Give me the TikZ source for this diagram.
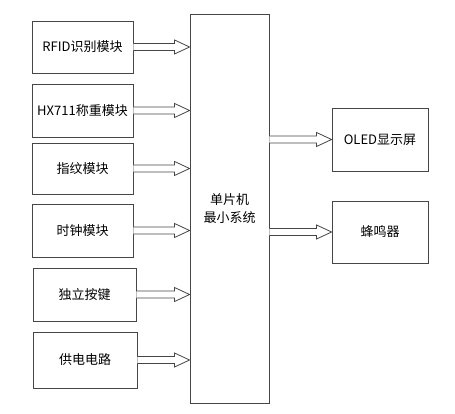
\documentclass[tikz,border=0pt]{standalone}
\usepackage{fontspec}
\setmainfont{Noto Sans CJK SC}
\usetikzlibrary{calc, positioning}
\definecolor{rand}{RGB}{70, 70, 70}

\tikzset{
  modul/.style={draw=rand, line width=0.9pt, minimum width=101pt, minimum height=52pt,
    inner sep=2pt, font=\fontsize{13}{15}\selectfont},
  hohlpfeil/.style={draw=rand, line width=0.8pt, fill=white}
}
% hollow block arrow from #1 to #2 (same height)
\newcommand{\hohlpfeil}[2]{%
  \draw[hohlpfeil] let \p1=(#1), \p2=(#2) in
    (\x1,\y1+3.5pt) -- (\x2-15pt,\y1+3.5pt) -- (\x2-15pt,\y1+7pt) -- (\x2,\y1)
    -- (\x2-15pt,\y1-7pt) -- (\x2-15pt,\y1-3.5pt) -- (\x1,\y1-3.5pt);}

\begin{document}
\begin{tikzpicture}[x=1pt, y=-1pt]
  \useasboundingbox (0,0) rectangle (455,414);
  % Eingangsmodule
  \node[modul] (rfid) at (82.5,47) {RFID识别模块};
  \node[modul, minimum height=53pt] (hx) at (82.5,110.5) {HX711称重模块};
  \node[modul, minimum height=51pt] (finger) at (82.5,168.5) {指纹模块};
  \node[modul, minimum height=53pt] (uhr) at (82.5,230.5) {时钟模块};
  \node[modul, minimum width=103pt, minimum height=53pt] (taste) at (84.5,294.5) {独立按键};
  \node[modul, minimum width=104pt, minimum height=56pt] (strom) at (85,360) {供电电路};
  % Mikrocontroller
  \node[modul, minimum width=79pt, minimum height=389pt, align=center,
        font=\fontsize{13}{18}\selectfont] (mcu) at (229.5,208.5) {单片机\\最小系统};
  % Ausgaenge
  \node[modul, minimum width=96pt, minimum height=63pt] (oled) at (380,139.5) {OLED显示屏};
  \node[modul, minimum width=96pt, minimum height=62pt] (summer) at (380,232) {蜂鸣器};
  % Pfeile
  \foreach \q in {rfid, hx, finger, uhr, taste, strom}
    \hohlpfeil{\q.east}{mcu.west |- \q.east};
  \hohlpfeil{mcu.east |- oled.west}{oled.west};
  \hohlpfeil{mcu.east |- summer.west}{summer.west};
\end{tikzpicture}
\end{document}
